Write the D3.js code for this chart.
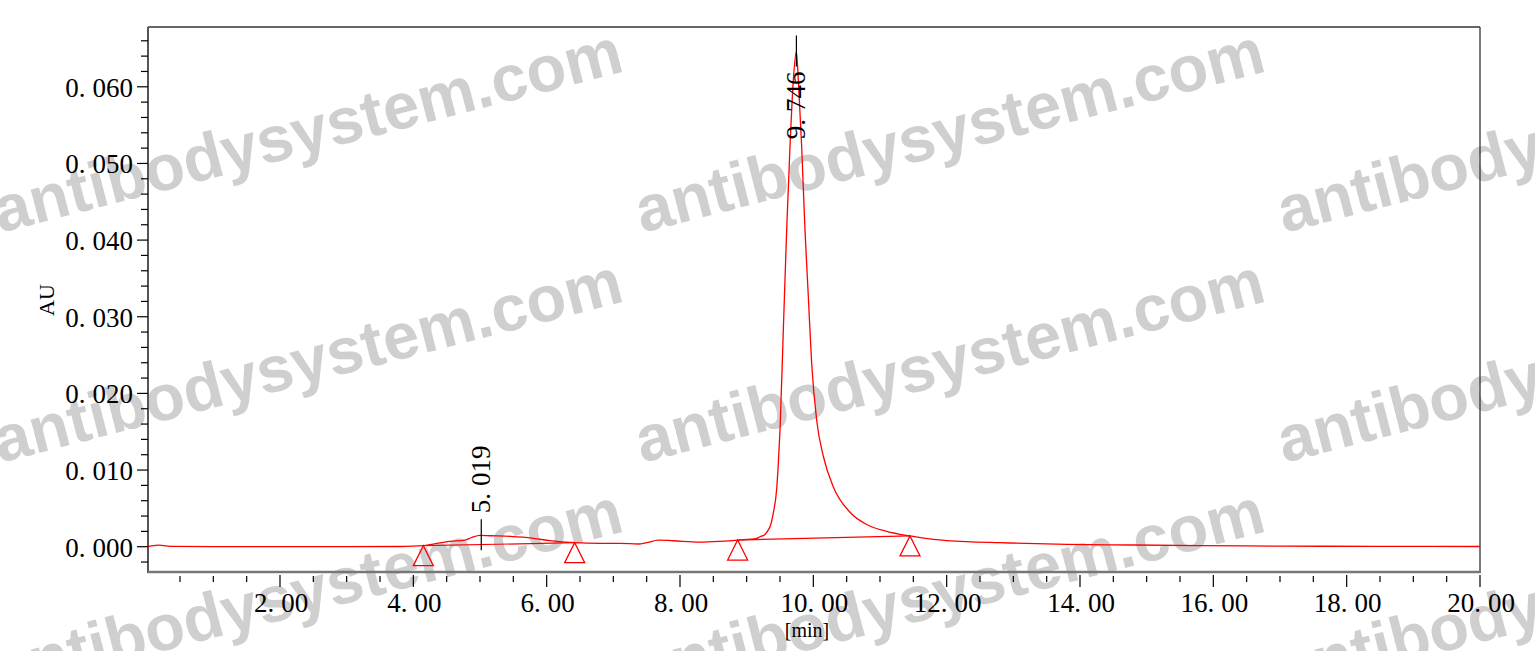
<!DOCTYPE html>
<html>
<head>
<meta charset="utf-8">
<script src="https://cdn.jsdelivr.net/npm/d3@7"></script>
<style>
  html, body { margin: 0; padding: 0; background: #fff; }
  svg { display: block; }
</style>
</head>
<body>
<svg id="chart" width="1535" height="651"></svg>
<script>
// ---------------- data ----------------
const times = [0.02, 0.17, 0.4, 1.0, 2.0, 3.0, 3.8, 4.15, 4.30, 4.55, 4.775, 4.875, 5.0, 5.15, 5.45, 5.8, 6.05, 6.42,
  6.8, 7.1, 7.375, 7.5, 7.675, 7.9, 8.3, 8.6, 8.875, 9.15, 9.2, 9.275, 9.325, 9.35, 9.40, 9.45, 9.475, 9.50, 9.55, 9.60,
  9.65, 9.70, 9.746, 9.775, 9.825, 9.875, 9.925, 9.975, 10.05, 10.15, 10.3, 10.55, 10.8, 11.1, 11.45, 11.8, 12.3,
  12.8, 13.8, 14.8, 15.8, 17.0, 18.5, 20.0];
const signal = [0.0000, 0.0002, 0.00003, 0.0000, 0.0000, 0.0000, 0.00003, 0.00013, 0.00035, 0.0007, 0.00087, 0.0012,
  0.00148, 0.00143, 0.00135, 0.0011, 0.00078, 0.00052, 0.00044, 0.00044, 0.00035, 0.00052, 0.00087, 0.00078, 0.0006,
  0.0007, 0.00087, 0.0011, 0.0013, 0.0016, 0.0022, 0.0026, 0.0044, 0.0075, 0.0109, 0.0152, 0.0283, 0.0413, 0.0522,
  0.0609, 0.0646, 0.0609, 0.0522, 0.0413, 0.0326, 0.0239, 0.0165, 0.0118, 0.0078, 0.0045, 0.0029, 0.0020, 0.0014,
  0.00096, 0.00065, 0.00052, 0.0003, 0.00022, 0.00013, 0.00008, 0.00004, 0.00003];

const markerTimes  = [4.15, 6.42, 8.865, 11.45];
const markerValues = [0.00013, 0.00052, 0.00087, 0.0014];
const baselinePairs = [[0, 1], [2, 3]];

const peakTimes  = [5.019, 9.746];
const peakValues = [0.00148, 0.0646];
const peakLabels = ["5.019", "9.746"];

const xTicks = [2, 4, 6, 8, 10, 12, 14, 16, 18, 20];
const xTickLabels = ["2.00", "4.00", "6.00", "8.00", "10.00", "12.00", "14.00", "16.00", "18.00", "20.00"];
const xMinorTicks = d3.range(1, 41).map(d => d * 0.5).filter(d => d % 2 !== 0);
const yTicks = [0, 0.01, 0.02, 0.03, 0.04, 0.05, 0.06];
const yTickLabels = ["0.000", "0.010", "0.020", "0.030", "0.040", "0.050", "0.060"];
const yMinorTicks = d3.range(-1, 34).map(d => d * 0.002).filter(d => Math.round(d * 1000) % 10 !== 0);

const xTitle = "[min]";
const yTitle = "AU";
const watermarkText = "antibodysystem.com";

// ---------------- layout ----------------
const L = 148, R = 1480, T = 27, B = 572;
const svg = d3.select("#chart");
const x = d3.scaleLinear().domain([0.02, 20]).range([L, R]);
const y = d3.scaleLinear().domain([-0.0033, 0.0678]).range([B, T]);
const serif = "'Liberation Serif', 'DejaVu Serif', serif";

// watermark (behind)
const wmPos = [];
[0, 642, 1284].forEach(cx => [233, 463, 693].forEach(cy => wmPos.push([cx, cy])));
svg.append("g").selectAll("text").data(wmPos).join("text")
  .attr("transform", d => `translate(${d[0]},${d[1]}) rotate(-14.5)`)
  .attr("font-family", "'Liberation Sans', Arial, sans-serif")
  .attr("font-weight", "bold")
  .attr("font-size", 65)
  .attr("fill", "#cfcfcf")
  .text(watermarkText);

// label helper: wide gap after the decimal point
function splitLabel(sel, str) {
  const i = str.indexOf(".");
  sel.text(null);
  sel.append("tspan").text(str.slice(0, i + 1));
  sel.append("tspan").attr("dx", 7).text(str.slice(i + 1));
}

// frame
svg.append("line").attr("x1", L).attr("x2", R).attr("y1", T).attr("y2", T).attr("stroke", "#333").attr("stroke-width", 1.3);
svg.append("line").attr("x1", R).attr("x2", R).attr("y1", T).attr("y2", B).attr("stroke", "#333").attr("stroke-width", 1.3);
svg.append("line").attr("x1", L).attr("x2", L).attr("y1", T).attr("y2", B + 1).attr("stroke", "#555").attr("stroke-width", 2);
svg.append("line").attr("x1", L).attr("x2", R + 1).attr("y1", B).attr("y2", B).attr("stroke", "#777").attr("stroke-width", 2.5);

// y ticks
const gy = svg.append("g");
gy.selectAll("line.maj").data(yTicks).join("line")
  .attr("x1", L - 11).attr("x2", L).attr("y1", d => y(d)).attr("y2", d => y(d))
  .attr("stroke", "#000").attr("stroke-width", 1.2);
gy.selectAll("line.min").data(yMinorTicks).join("line")
  .attr("x1", L - 7).attr("x2", L).attr("y1", d => y(d)).attr("y2", d => y(d))
  .attr("stroke", "#000").attr("stroke-width", 1.2);
gy.selectAll("text").data(yTicks).join("text")
  .attr("x", L - 15).attr("y", d => y(d) + 10)
  .attr("text-anchor", "end")
  .attr("font-family", serif).attr("font-size", 27).attr("fill", "#000")
  .each(function(d, i) { splitLabel(d3.select(this), yTickLabels[i]); });

// x ticks
const gx = svg.append("g");
gx.selectAll("line.maj").data(xTicks).join("line")
  .attr("x1", d => x(d)).attr("x2", d => x(d)).attr("y1", B + 3).attr("y2", B + 15)
  .attr("stroke", "#000").attr("stroke-width", 1.2);
gx.selectAll("line.min").data(xMinorTicks).join("line")
  .attr("x1", d => x(d)).attr("x2", d => x(d)).attr("y1", B + 4).attr("y2", B + 10)
  .attr("stroke", "#000").attr("stroke-width", 1.2);
gx.selectAll("text").data(xTicks).join("text")
  .attr("x", d => x(d) + 1).attr("y", 612)
  .attr("text-anchor", "middle")
  .attr("font-family", serif).attr("font-size", 27).attr("fill", "#000")
  .each(function(d, i) { splitLabel(d3.select(this), xTickLabels[i]); });

// axis titles
svg.append("text").attr("x", 807).attr("y", 637).attr("text-anchor", "middle")
  .attr("font-family", serif).attr("font-size", 20).attr("fill", "#000").text(xTitle);
svg.append("text").attr("transform", "translate(54,300) rotate(-90)").attr("text-anchor", "middle")
  .attr("font-family", serif).attr("font-size", 22).attr("fill", "#000").text(yTitle);

// trace
const pts = times.map((t, i) => [t, signal[i]]);
svg.append("path").datum(pts)
  .attr("fill", "none").attr("stroke", "#ff0000").attr("stroke-width", 1.3)
  .attr("d", d3.line().x(d => x(d[0])).y(d => y(d[1])).curve(d3.curveMonotoneX));

// integration baselines
svg.append("g").selectAll("line").data(baselinePairs).join("line")
  .attr("x1", d => x(markerTimes[d[0]])).attr("y1", d => y(markerValues[d[0]]))
  .attr("x2", d => x(markerTimes[d[1]])).attr("y2", d => y(markerValues[d[1]]))
  .attr("stroke", "#ff0000").attr("stroke-width", 1.2);

// triangle markers
svg.append("g").selectAll("path").data(markerTimes).join("path")
  .attr("d", (d, i) => {
    const px = x(d), py = y(markerValues[i]);
    return `M${px},${py} L${px + 10},${py + 20} L${px - 10},${py + 20} Z`;
  })
  .attr("fill", "none").attr("stroke", "#ff0000").attr("stroke-width", 1.3);

// peak markers + labels
const gp = svg.append("g");
peakTimes.forEach((t, i) => {
  const px = x(t), py = y(peakValues[i]);
  gp.append("line").attr("x1", px).attr("x2", px).attr("y1", py - 16).attr("y2", py + 15)
    .attr("stroke", "#000").attr("stroke-width", 1.2);
  const above = (py - 22 - 70) > T;
  const ty = above ? py - 22 : py + 20;
  const txt = gp.append("text")
    .attr("transform", `translate(${px + 9},${ty}) rotate(-90)`)
    .attr("text-anchor", above ? "start" : "end")
    .attr("font-family", serif).attr("font-size", 27).attr("fill", "#000");
  splitLabel(txt, peakLabels[i]);
});
</script>
</body>
</html>
